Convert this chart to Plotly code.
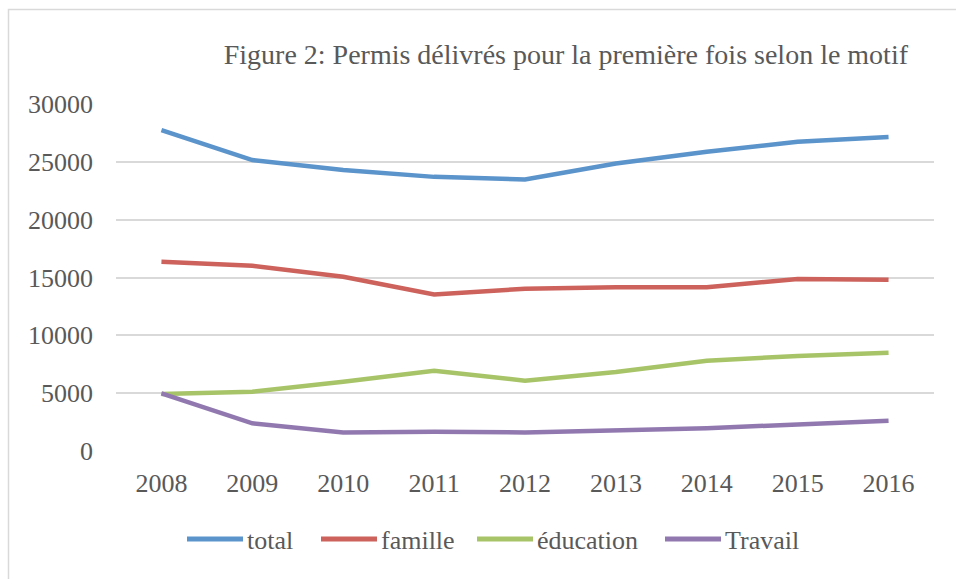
import plotly.graph_objects as go

years = ["2008", "2009", "2010", "2011", "2012", "2013", "2014", "2015", "2016"]
total = [27750, 25150, 24300, 23700, 23480, 24860, 25870, 26730, 27150]
famille = [16370, 16020, 15070, 13540, 14030, 14150, 14150, 14870, 14810]
education = [4930, 5130, 5990, 6940, 6080, 6830, 7810, 8210, 8500]
travail = [4990, 2390, 1610, 1670, 1610, 1810, 1960, 2300, 2620]

names = ["total", "famille", "éducation", "Travail"]
colors = ["#5B93CB", "#CC625B", "#A8C468", "#9179B0"]
values = [total, famille, education, travail]

FONT = "Liberation Serif"
TXT = "#595959"

W, H = 956, 579
L, R, T, B = 116, 22, 104, 128
PW, PH = W - L - R, H - T - B


def px(x):
    return (x - L) / PW


def py(y):
    return (H - B - y) / PH


fig = go.Figure()
for name, vals, col in zip(names, values, colors):
    fig.add_trace(go.Scatter(x=years, y=vals, name=name, mode="lines",
                             line=dict(color=col, width=4.5), showlegend=False))

fig.update_layout(
    width=W, height=H,
    paper_bgcolor="white", plot_bgcolor="white",
    margin=dict(l=L, r=R, t=T, b=B),
    font=dict(family=FONT, color=TXT, size=26),
    title=dict(text="Figure 2: Permis délivrés pour la première fois selon le motif",
               x=908 / W, xanchor="right", xref="container",
               y=1 - 54 / H, yanchor="middle", yref="container",
               font=dict(family=FONT, size=28, color=TXT)),
    showlegend=False,
    xaxis=dict(type="category", range=[-0.5, 8.5], showgrid=False, zeroline=False, showline=False,
               ticks="", tickfont=dict(size=26, color=TXT), ticklabelstandoff=14),
    yaxis=dict(range=[0, 30000], tickvals=[0, 5000, 10000, 15000, 20000, 25000, 30000],
               ticktext=["0", "5000", "10000", "15000", "20000", "25000", "30000"],
               showgrid=True, gridcolor="#D9D9D9", gridwidth=1.5, zeroline=False,
               showline=False, ticks="", tickfont=dict(size=26, color=TXT),
               ticklabelstandoff=22),
)

# chart frame (left and top edges visible in the reference)
fig.add_shape(type="rect", xref="paper", yref="paper",
              x0=px(8.5), x1=px(975), y0=py(600), y1=py(9.5),
              line=dict(color="#D9D9D9", width=1.5), fillcolor="rgba(0,0,0,0)", layer="below")

# custom legend (long line samples as in the reference)
leg_x = [187, 321, 477, 665]
leg_y = 540
for name, col, x0 in zip(names, colors, leg_x):
    fig.add_shape(type="line", xref="paper", yref="paper",
                  x0=px(x0), x1=px(x0 + 56), y0=py(leg_y - 1), y1=py(leg_y - 1),
                  line=dict(color=col, width=5))
    fig.add_annotation(text=name, xref="paper", yref="paper", x=px(x0 + 58), y=py(leg_y),
                       xanchor="left", yanchor="middle", showarrow=False,
                       font=dict(family=FONT, size=26, color=TXT))

fig.write_html("out.html", config={"displayModeBar": False},
               post_script="document.body.style.margin='0px';")
